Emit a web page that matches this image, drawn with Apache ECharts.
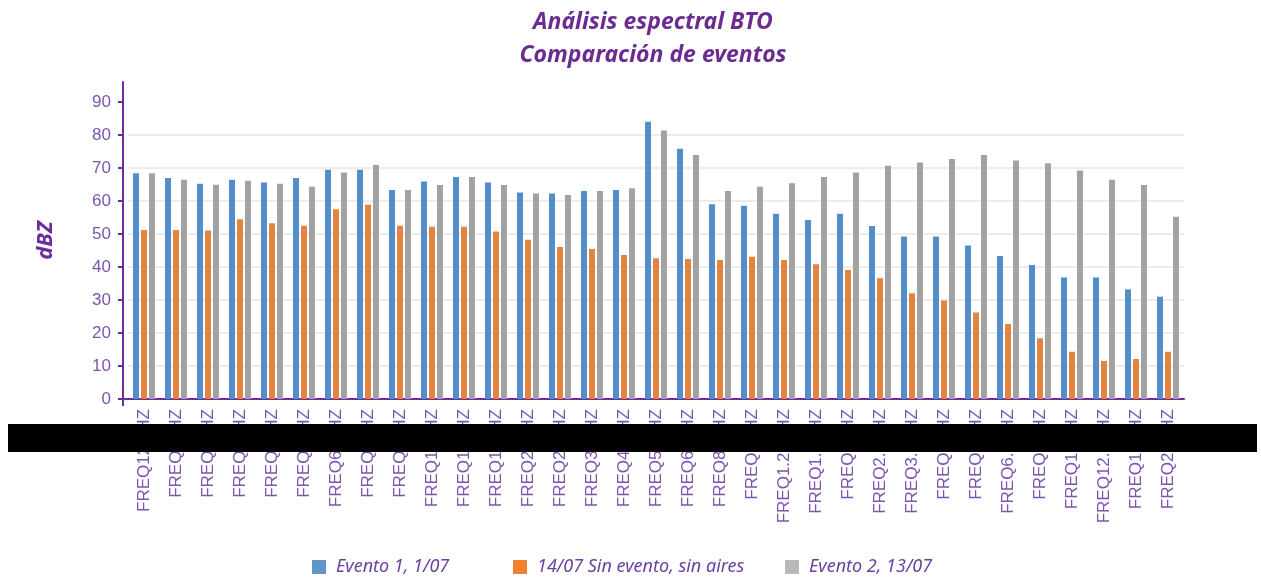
<!DOCTYPE html>
<html>
<head>
<meta charset="utf-8">
<script src="https://cdn.jsdelivr.net/npm/echarts@6/dist/echarts.min.js"></script>
<style>html,body{margin:0;padding:0;background:#fff}#c{width:1261px;height:579px}</style>
</head>
<body>
<div id="c"></div>
<script>
const categories = ['FREQ12.5HZ','FREQ16HZ','FREQ20HZ','FREQ25HZ','FREQ32HZ','FREQ40HZ','FREQ600HZ','FREQ80HZ','FREQ90HZ','FREQ100HZ','FREQ125HZ','FREQ160HZ','FREQ200HZ','FREQ250HZ','FREQ315HZ','FREQ400HZ','FREQ500HZ','FREQ630HZ','FREQ800HZ','FREQ1KHZ','FREQ1.25KHZ','FREQ1.6KHZ','FREQ2KHZ','FREQ2.5KHZ','FREQ3.2KHZ','FREQ4KHZ','FREQ5KHZ','FREQ6.3KHZ','FREQ8KHZ','FREQ10KHZ','FREQ12.5KHZ','FREQ16KHZ','FREQ20KHZ'];
const evento1 = [68.4,66.9,65.2,66.4,65.6,66.9,69.4,69.4,63.3,65.9,67.2,65.6,62.5,62.2,63.0,63.3,84.0,75.8,59.0,58.5,56.1,54.2,56.1,52.4,49.2,49.2,46.5,43.3,40.6,36.8,36.8,33.2,31.0];
const sinEvento = [51.2,51.2,51.0,54.4,53.2,52.5,57.5,58.8,52.5,52.2,52.2,50.7,48.2,46.0,45.4,43.6,42.6,42.4,42.1,43.1,42.1,40.8,39.1,36.6,32.0,29.8,26.2,22.7,18.4,14.3,11.5,12.1,14.3];
const evento2 = [68.4,66.4,64.9,66.1,65.2,64.3,68.6,70.9,63.3,64.8,67.2,64.8,62.2,61.8,63.0,63.8,81.3,73.9,63.0,64.3,65.3,67.2,68.6,70.6,71.6,72.7,73.9,72.2,71.4,69.2,66.4,64.8,55.2];
const seriesNames = ['Evento 1, 1/07','14/07 Sin evento, sin aires','Evento 2, 13/07'];
const yTicks = [0,10,20,30,40,50,60,70,80,90];

const purple = '#6b2d9e';
const labelPurple = '#7c55b2';
const chart = echarts.init(document.getElementById('c'), null, {renderer:'canvas'});
const legendStyle = {fontFamily:'Noto Sans', fontStyle:'italic', fontSize:18, color:'#6b3fa2', padding:[0,0,0,5]};
const colors = ['#558dc8','#e3843f','#a2a2a2'];
const legendColors = ['#6197c8','#f2822f','#b8b8b8'];
const legendLefts = [307, 508, 780];
chart.setOption({
  animation:false,
  title:{
    text:'Análisis espectral BTO\nComparación de eventos',
    left:648, textAlign:'center', top:1,
    textStyle:{fontFamily:'Noto Sans', fontStyle:'italic', fontWeight:'bold', fontSize:23, lineHeight:33, color:'#6a2c91'}
  },
  legend: seriesNames.map((n,i)=>({
    data:[{name:n, itemStyle:{color:legendColors[i]}}],
    left:legendLefts[i], top:553, itemWidth:14, itemHeight:14, icon:'rect',
    selectedMode:false, textStyle:legendStyle
  })),
  grid:{left:128, right:77, top:82, bottom:180, containLabel:false},
  xAxis:{
    type:'category', data:categories,
    axisLine:{lineStyle:{color:purple, width:2}},
    axisTick:{show:false},
    axisLabel:{rotate:90, margin:10, fontFamily:'Liberation Sans', fontSize:17, color:labelPurple, interval:0}
  },
  yAxis:{
    type:'value', min:0, max:96, interval:10, offset:5,
    name:'dBZ', nameLocation:'middle', nameGap:66,
    nameTextStyle:{fontFamily:'Noto Sans', fontStyle:'italic', fontWeight:'bold', fontSize:22, color:purple},
    axisLine:{show:true, lineStyle:{color:purple, width:2}},
    axisTick:{show:true, length:5, lineStyle:{color:purple, width:2}, customValues:yTicks},
    axisLabel:{fontFamily:'Liberation Sans', fontSize:17, color:labelPurple, margin:12, customValues:yTicks},
    splitLine:{show:true, lineStyle:{width:2, color:['rgba(0,0,0,0)','#ececec','#ececec','#ececec','#ececec','#ececec','#ececec','#ececec','#ececec','rgba(0,0,0,0)','rgba(0,0,0,0)']}}
  },
  series:[evento1, sinEvento, evento2].map((d,i)=>({
    name:seriesNames[i], type:'bar', data:d, barWidth:6, barGap:'33%',
    itemStyle:{color:colors[i]}
  })),
  graphic:[
    {type:'line', shape:{x1:118,y1:399,x2:129,y2:399}, style:{stroke:purple, lineWidth:2}, z:50},
    {type:'line', shape:{x1:123,y1:399,x2:123,y2:406}, style:{stroke:purple, lineWidth:2}, z:50},
    {type:'rect', shape:{x:8,y:424,width:1249,height:28}, style:{fill:'#000'}, z:100}
  ]
});
</script>
</body>
</html>
